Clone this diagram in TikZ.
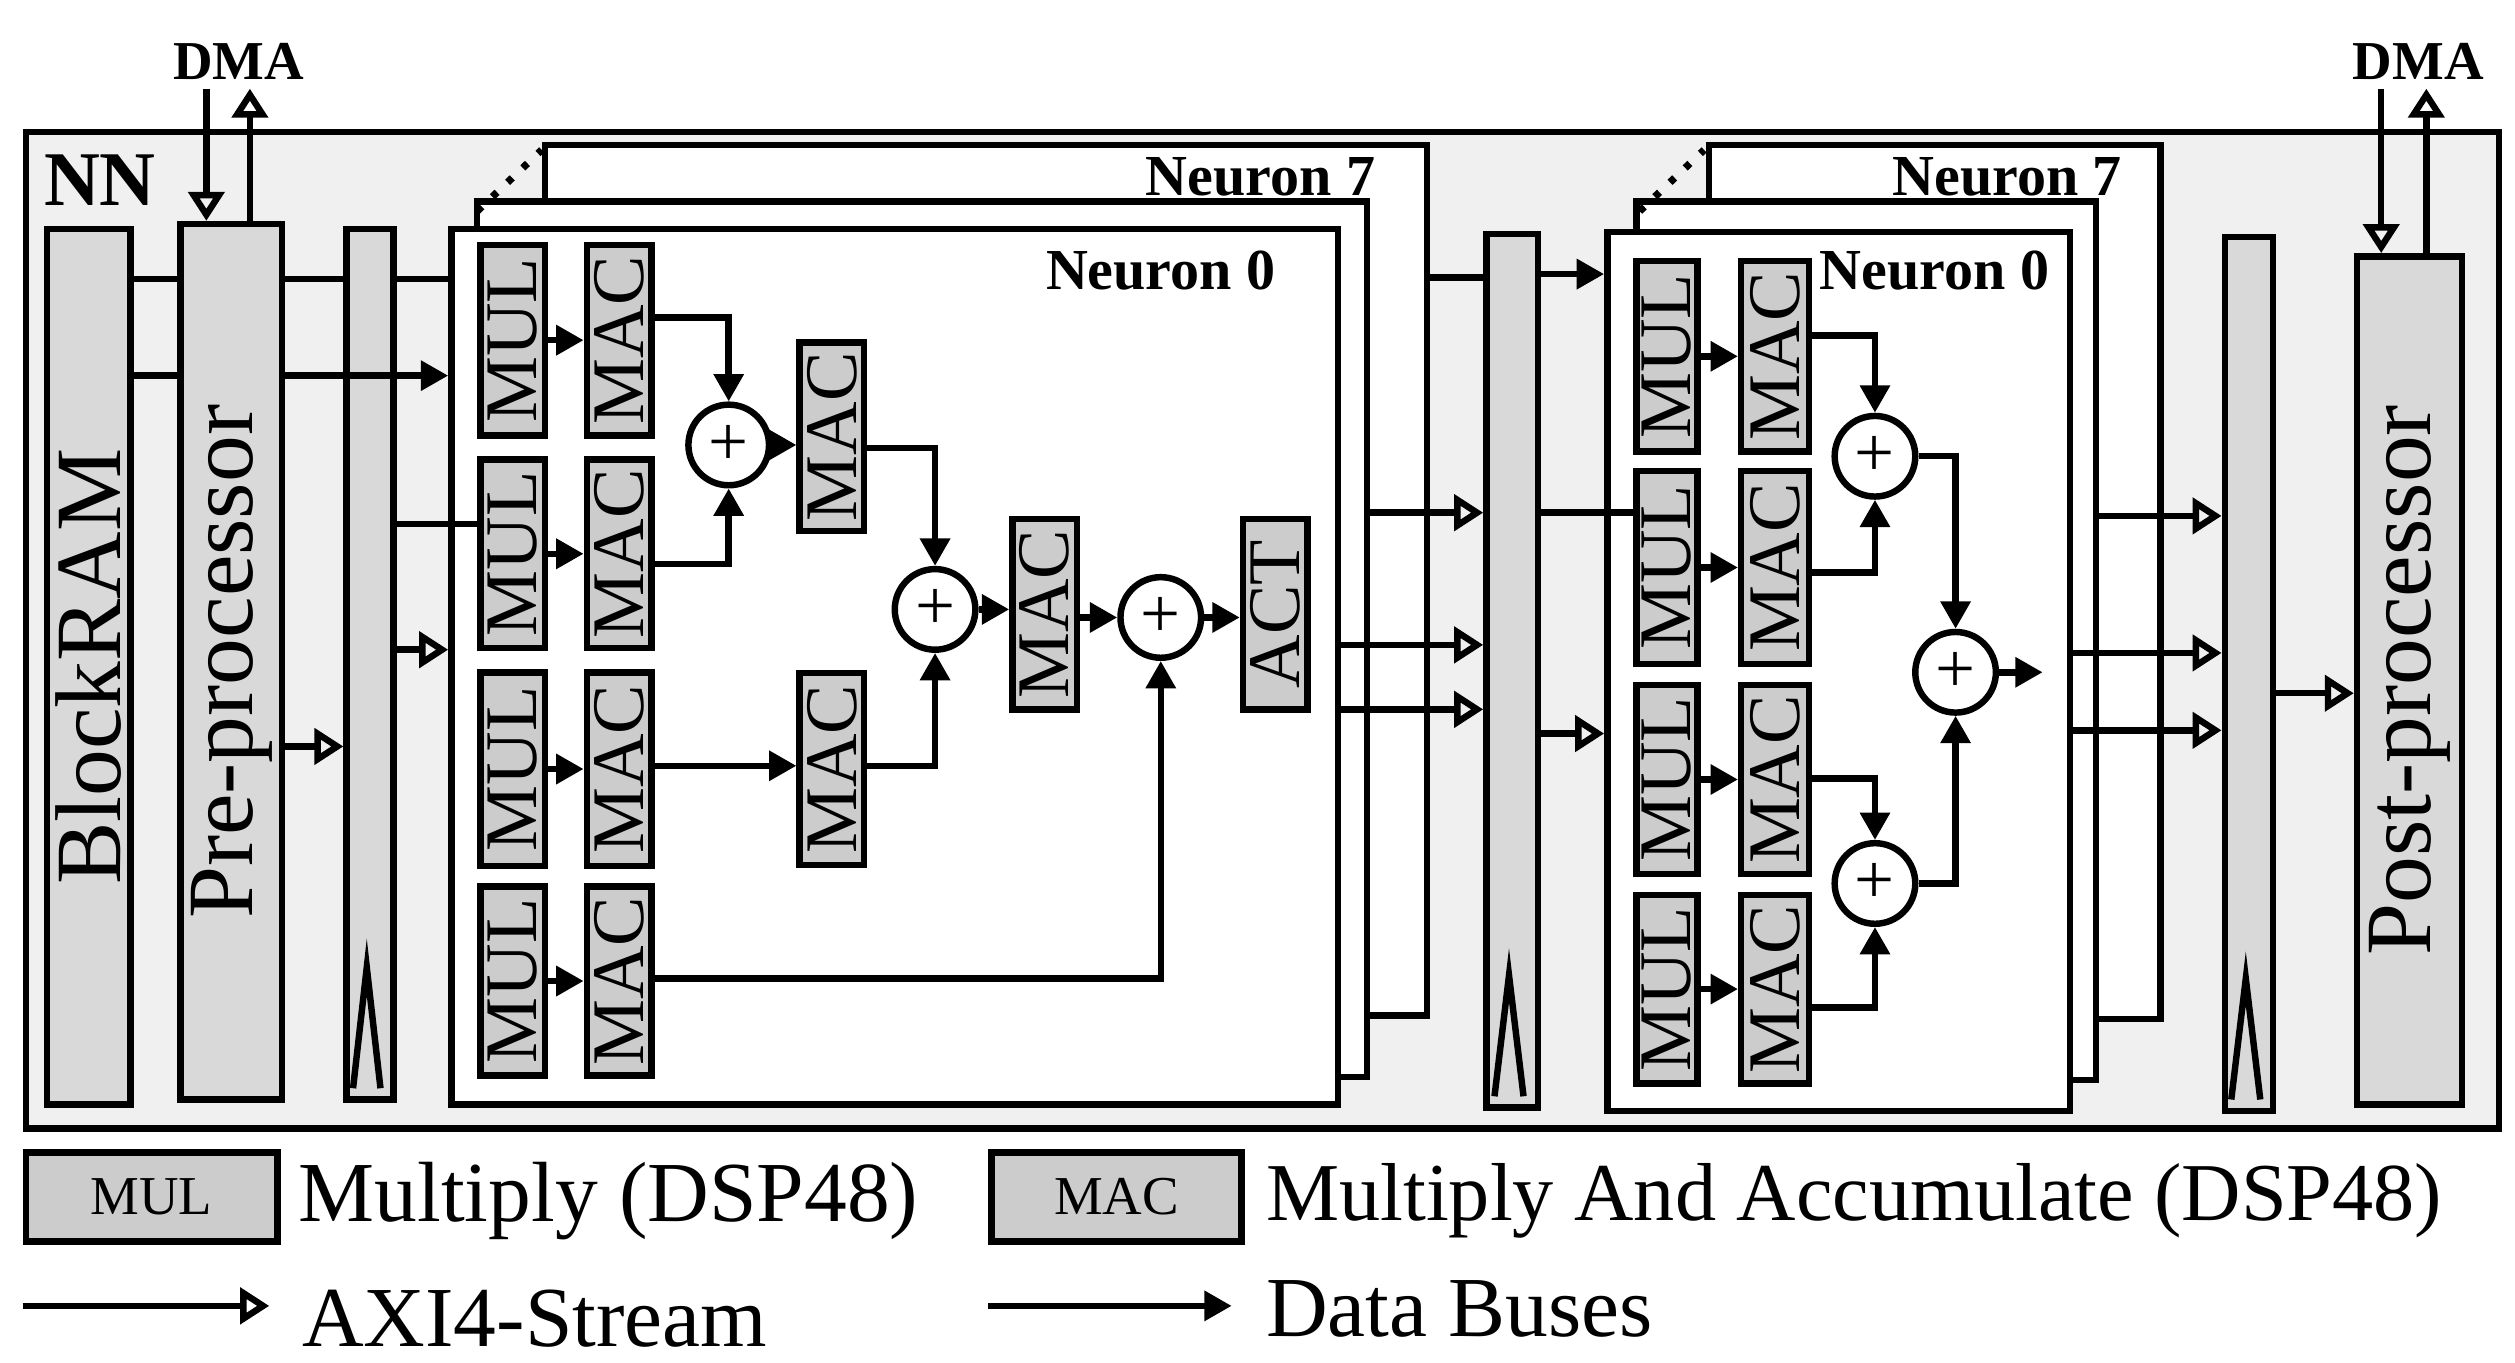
\documentclass[tikz,border=0pt]{standalone}
\usepackage{fontspec}
\setmainfont{Liberation Serif}
\usetikzlibrary{arrows.meta}
\begin{document}
\begin{tikzpicture}[x=1pt,y=-1pt,line width=4pt,
 blk/.style={draw,fill=gray!40},
 bar/.style={draw,fill=gray!30},
 lbl/.style={rotate=90,font=\fontsize{46}{46}\selectfont},
 big/.style={rotate=90,font=\fontsize{58}{58}\selectfont},
 nl/.style={font=\bfseries\fontsize{36}{36}\selectfont},
 oa/.style={-{Triangle[open,width=22pt,length=18pt]}},
 sa/.style={-{Triangle[width=18pt,length=17pt]}},
 add/.style={draw,fill=white,circle,minimum size=50pt,inner sep=0pt,font=\fontsize{44}{44}\selectfont}]
\useasboundingbox (0,0) rectangle (1560,845);
% outer
\node[draw,fill=gray!12,minimum width=1534pt,minimum height=618pt,anchor=north west] (nn) at (14,80) {};
\node[nl,font=\bfseries\fontsize{48}{48}\selectfont] (nnl) at (62,112) {NN};
\node[nl,font=\bfseries\fontsize{34}{34}\selectfont] (dma1) at (148,38) {DMA};
\node[nl,font=\bfseries\fontsize{34}{34}\selectfont] (dma2) at (1500,38) {DMA};
% left blocks
\node[bar,minimum width=52pt,minimum height=543pt,anchor=north west] (bram) at (27,140) {};
\node[big] at (bram.center) {BlockRAM};
\node[bar,minimum width=63pt,minimum height=543pt,anchor=north west] (pre) at (110,137) {};
\node[big] at (pre.center) {Pre-processor};
\node[bar,minimum width=29pt,minimum height=540pt,anchor=north west] (b1) at (213,140) {};
\draw (219,675)--(227.5,600)--(236,675);
\coordinate (d1a) at (128,55); \coordinate (d1b) at (155,55);
\draw[oa] (d1a) -- (128,137);
\draw[oa] (155,137) -- (d1b);
% neuron stack 1
\draw[fill=white] (338,90) rectangle (885,630);
\draw[fill=white] (296,125) rectangle (848,668);
\node[draw,fill=white,minimum width=550pt,minimum height=543pt,anchor=north west] (n1) at (278,140) {};
\draw[dash pattern=on 4pt off 9pt,line width=4.5pt] (296,131)--(336,93);
\node[nl] at (782,110) {Neuron 7};
\node[nl] at (720,168) {Neuron 0};
\foreach \i/\t/\b in {1/150/268,2/283/400,3/415/535,4/548/665}{
 \node[blk,minimum width=40pt,minimum height={\b-\t},anchor=north west] (mul\i) at (296,\t) {};
 \node[lbl] at (mul\i.center) {MUL};
 \node[blk,minimum width=40pt,minimum height={\b-\t},anchor=north west] (mac\i) at (362,\t) {};
 \node[lbl] at (mac\i.center) {MAC};
 \draw[sa] (mul\i.east) -- (mac\i.west);
}
\node[add] (a1) at (452,276) {+};
\node[add] (a2) at (580,378) {+};
\node[add] (a3) at (720,383) {+};
\node[blk,minimum width=40pt,minimum height=117pt] (m5) at (516,271) {}; \node[lbl] at (m5) {MAC};
\node[blk,minimum width=40pt,minimum height=119pt] (m6) at (516,477) {}; \node[lbl] at (m6) {MAC};
\node[blk,minimum width=40pt,minimum height=118pt] (m7) at (648,381) {}; \node[lbl] at (m7) {MAC};
\node[blk,minimum width=40pt,minimum height=118pt] (act) at (791,381) {}; \node[lbl] at (act) {ACT};
\draw[sa] (402,197) -| (a1.north);
\draw[sa] (402,350) -| (a1.south);
\draw[sa] (a1.east) -- (m5.west|-a1.east);
\draw[sa] (536,278) -| (a2.north);
\draw[sa] (402,475) -- (m6.west|-0,475);
\draw[sa] (536,475) -| (a2.south);
\draw[sa] (a2.east) -- (m7.west|-a2.east);
\draw[sa] (m7.east|-a3.west) -- (a3.west);
\draw[sa] (402,607) -| (a3.south);
\draw[sa] (a3.east) -- (act.west|-a3.east);
% input lines
\draw (bram.east|-0,173) -- (pre.west|-0,173);
\draw (bram.east|-0,233) -- (pre.west|-0,233);
\draw (pre.east|-0,173) -- (b1.west|-0,173);
\draw (b1.east|-0,173) -- (n1.west|-0,173);
\draw[sa] (pre.east|-0,233) -- (n1.west|-0,233);
\draw (b1.east|-0,325) -- (mul2.west|-0,325);
\draw[oa] (b1.east|-0,403) -- (278,403);
\draw[oa] (pre.east|-0,463) -- (b1.west|-0,463);
% bar2
\node[bar,minimum width=32pt,minimum height=542pt,anchor=north west] (b2) at (920,143) {};
\draw (927,680)--(936,605)--(945,680);
\draw (885,172) -- (b2.west|-0,172);
\draw[oa] (848,318) -- (b2.west|-0,318);
\draw[oa] (828,400) -- (b2.west|-0,400);
\draw[oa] (828,440) -- (b2.west|-0,440);
% neuron stack 2
\draw[fill=white] (1060,90) rectangle (1340,632);
\draw[fill=white] (1015,125) rectangle (1300,670);
\node[draw,fill=white,minimum width=287pt,minimum height=545pt,anchor=north west] (n2) at (995,142) {};
\draw[dash pattern=on 4pt off 9pt,line width=4.5pt] (1017,131)--(1057,93);
\node[nl] at (1245,110) {Neuron 7};
\node[nl] at (1200,168) {Neuron 0};
\draw[sa] (b2.east|-0,170) -- (n2.west|-0,170);
\draw (b2.east|-0,318) -- (1015,318);
\draw[oa] (b2.east|-0,455) -- (995,455);
\foreach \i/\t/\b in {1/160/278,2/290/410,3/423/540,4/553/670}{
 \node[blk,minimum width=38pt,minimum height={\b-\t},anchor=north west] (rmul\i) at (1013,\t) {};
 \node[lbl] at (rmul\i.center) {MUL};
 \node[blk,minimum width=42pt,minimum height={\b-\t},anchor=north west] (rmac\i) at (1078,\t) {};
 \node[lbl] at (rmac\i.center) {MAC};
 \draw[sa] (rmul\i.east) -- (rmac\i.west);
}
\node[add] (r1) at (1163,283) {+};
\node[add] (r2) at (1213,417) {+};
\node[add] (r3) at (1163,548) {+};
\coordinate (rout) at (1267,417);
\draw[sa] (1120,208) -| (r1.north);
\draw[sa] (1120,355) -| (r1.south);
\draw[sa] (r1.east) -| (r2.north);
\draw[sa] (1120,483) -| (r3.north);
\draw[sa] (1120,625) -| (r3.south);
\draw[sa] (r3.east) -| (r2.south);
\draw[sa] (r2.east) -- (rout);
% bar3 and post
\node[bar,minimum width=30pt,minimum height=542pt,anchor=north west] (b3) at (1378,145) {};
\draw (1384,682)--(1393,607)--(1402,682);
\draw[oa] (1300,320) -- (b3.west|-0,320);
\draw[oa] (1282,405) -- (b3.west|-0,405);
\draw[oa] (1282,453) -- (b3.west|-0,453);
\node[bar,minimum width=65pt,minimum height=526pt,anchor=north west] (post) at (1460,157) {};
\node[big] at (post.center) {Post-processor};
\draw[oa] (b3.east|-0,430) -- (post.west|-0,430);
\coordinate (d2a) at (1477,55); \coordinate (d2b) at (1505,55);
\draw[oa] (d2a) -- (1477,157);
\draw[oa] (1505,157) -- (d2b);
% legend
\node[blk,minimum width=156pt,minimum height=55pt,anchor=north west] (lg1) at (14,713) {};
\node[font=\fontsize{34}{34}\selectfont] at (lg1) {MUL};
\node[anchor=west,font=\fontsize{53}{53}\selectfont] at (180,745) {Multiply (DSP48)};
\node[blk,minimum width=155pt,minimum height=55pt,anchor=north west] (lg2) at (613,713) {};
\node[font=\fontsize{34}{34}\selectfont] at (lg2) {MAC};
\node[anchor=west,font=\fontsize{51}{51}\selectfont] at (780,745) {Multiply And Accumulate (DSP48)};
\coordinate (l1a) at (14,810); \coordinate (l1b) at (167,810);
\draw[oa] (l1a) -- (l1b);
\node[anchor=west,font=\fontsize{53}{53}\selectfont] at (182,818) {AXI4-Stream};
\coordinate (l2a) at (613,810); \coordinate (l2b) at (764,810);
\draw[sa] (l2a) -- (l2b);
\node[anchor=west,font=\fontsize{53}{53}\selectfont] at (780,812) {Data Buses};
\end{tikzpicture}
\end{document}
